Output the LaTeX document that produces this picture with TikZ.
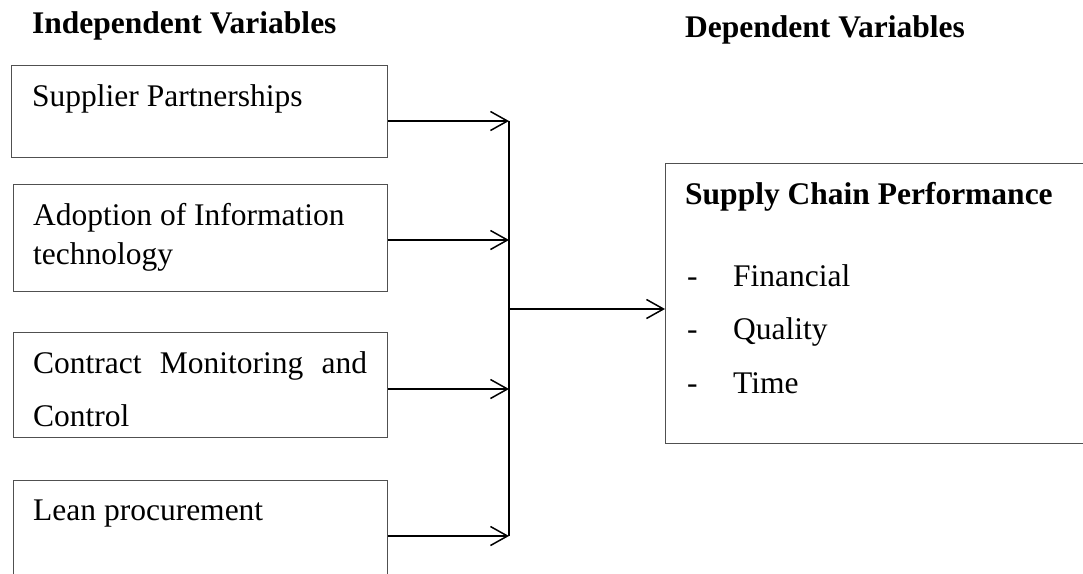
\documentclass[tikz,border=0pt]{standalone}
\usepackage{fontspec}
\setmainfont{Liberation Serif}
\usetikzlibrary{arrows.meta}
\definecolor{boxgray}{RGB}{80,80,80}
\begin{document}
\begin{tikzpicture}[x=1pt,y=-1pt,
  box/.style={draw=boxgray, line width=1.3pt, inner sep=0pt, anchor=north west},
  txt/.style={anchor=base west, inner sep=0pt, font=\fontsize{31.5}{38}\selectfont},
  head/.style={txt, font=\fontsize{31.5}{38}\selectfont\bfseries},
  conn/.style={line width=1.5pt, -{Straight Barb[length=17pt,width=19pt,line width=1.5pt]}},
  bus/.style={line width=1.5pt}]
\useasboundingbox (0,0) rectangle (1083,573);
\clip (0,0) rectangle (1083,573);

% headers
\node[head] (hind) at (32,33) {Independent Variables};
\node[head] (hdep) at (685,37) {Dependent Variables};

% independent boxes
\node[box, minimum width=376pt, minimum height=92pt] (b1) at (11,65) {};
\node[box, minimum width=374pt, minimum height=107pt] (b2) at (13,184) {};
\node[box, minimum width=374pt, minimum height=105pt] (b3) at (13,332) {};
\node[box, minimum width=374pt, minimum height=130pt] (b4) at (13,480) {};

\node[txt] (t1) at (32,106) {Supplier Partnerships};
\node[txt] (t2a) at (33,225) {Adoption of Information};
\node[txt] (t2b) at (33,264) {technology};
\node[txt] (t3a) at (33,373) {\makebox[334pt][s]{Contract Monitoring and}};
\node[txt] (t3b) at (33,426) {Control};
\node[txt] (t4) at (33,520) {Lean procurement};

% dependent box
\node[box, minimum width=430pt, minimum height=280pt] (dv) at (665,163) {};
\node[head] (dvh) at (685,204) {Supply Chain Performance};
\node[txt] (d1) at (687,286) {-};
\node[txt] (i1) at (733,286) {Financial};
\node[txt] (d2) at (687,339) {-};
\node[txt] (i2) at (733,339) {Quality};
\node[txt] (d3) at (687,393) {-};
\node[txt] (i3) at (733,393) {Time};

% bus
\coordinate (j1) at (509,121);
\coordinate (j2) at (509,240);
\coordinate (j3) at (509,389);
\coordinate (j4) at (509,536);
\coordinate (jm) at (509,309);

\draw[bus] (j1) -- (j4);
\draw[conn] (b1.east |- j1) -- (j1);
\draw[conn] (b2.east |- j2) -- (j2);
\draw[conn] (b3.east |- j3) -- (j3);
\draw[conn] (b4.east |- j4) -- (j4);
\draw[conn] (jm) -- (dv.west |- jm);
\end{tikzpicture}
\end{document}
